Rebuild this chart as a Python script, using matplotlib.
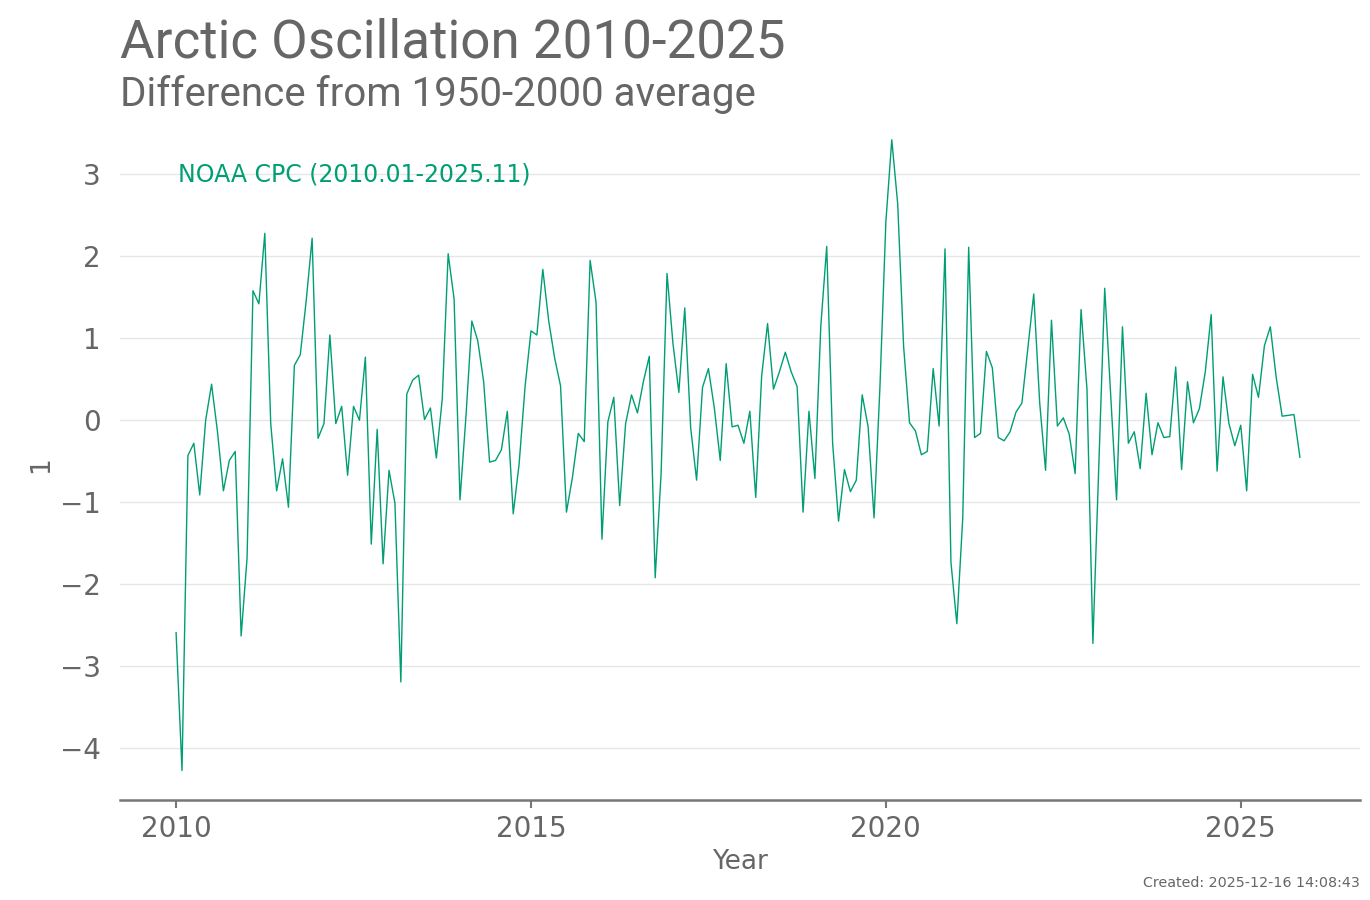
#Arctic Oscillation monthly index, 2010-2025
import matplotlib
matplotlib.use("Agg")
import matplotlib.pyplot as plt

#monthly values, Jan..Dec for each year
ao_2010 = [-2.59, -4.27, -0.43, -0.28, -0.91, -0.00, 0.44, -0.14, -0.86, -0.49, -0.38, -2.63]
ao_2011 = [-1.68, 1.58, 1.42, 2.28, -0.04, -0.86, -0.47, -1.06, 0.67, 0.80, 1.46, 2.22]
ao_2012 = [-0.22, -0.04, 1.04, -0.04, 0.17, -0.67, 0.17, 0.00, 0.77, -1.51, -0.11, -1.75]
ao_2013 = [-0.61, -1.01, -3.19, 0.32, 0.49, 0.55, 0.01, 0.15, -0.46, 0.26, 2.03, 1.48]
ao_2014 = [-0.97, 0.04, 1.21, 0.97, 0.47, -0.51, -0.49, -0.36, 0.11, -1.14, -0.53, 0.41]
ao_2015 = [1.09, 1.04, 1.84, 1.21, 0.76, 0.42, -1.12, -0.70, -0.16, -0.26, 1.95, 1.44]
ao_2016 = [-1.45, -0.02, 0.28, -1.04, -0.04, 0.31, 0.09, 0.47, 0.78, -1.92, -0.65, 1.79]
ao_2017 = [0.94, 0.34, 1.37, -0.09, -0.73, 0.40, 0.63, 0.15, -0.49, 0.69, -0.08, -0.06]
ao_2018 = [-0.28, 0.11, -0.94, 0.54, 1.18, 0.38, 0.59, 0.83, 0.59, 0.41, -1.12, 0.11]
ao_2019 = [-0.71, 1.15, 2.12, -0.28, -1.23, -0.60, -0.87, -0.73, 0.31, -0.08, -1.19, 0.41]
ao_2020 = [2.42, 3.42, 2.64, 0.90, -0.03, -0.13, -0.42, -0.38, 0.63, -0.07, 2.09, -1.73]
ao_2021 = [-2.48, -1.19, 2.11, -0.21, -0.16, 0.84, 0.64, -0.21, -0.25, -0.14, 0.10, 0.21]
ao_2022 = [0.88, 1.54, 0.22, -0.61, 1.22, -0.07, 0.03, -0.17, -0.65, 1.35, 0.38, -2.72]
ao_2023 = [-0.55, 1.61, 0.32, -0.97, 1.14, -0.28, -0.14, -0.59, 0.33, -0.42, -0.03, -0.21]
ao_2024 = [-0.20, 0.65, -0.60, 0.47, -0.03, 0.14, 0.59, 1.29, -0.62, 0.53, -0.04, -0.31]
ao_2025 = [-0.06, -0.86, 0.56, 0.28, 0.91, 1.14, 0.52, 0.05, 0.06, 0.07, -0.45]

years = list(range(2010, 2026))
yearly = [ao_2010, ao_2011, ao_2012, ao_2013, ao_2014, ao_2015, ao_2016, ao_2017,
          ao_2018, ao_2019, ao_2020, ao_2021, ao_2022, ao_2023, ao_2024, ao_2025]

x_ticks = [2010, 2015, 2020, 2025]
y_ticks = [-4, -3, -2, -1, 0, 1, 2, 3]

#flatten to decimal year / value
times = []
values = []
for yr, vals in zip(years, yearly):
    for m, v in enumerate(vals):
        times.append(yr + m / 12)
        values.append(v)

green = "#009E73"
grey = "#666666"

fig = plt.figure(figsize=(13.7, 9), dpi=100)
ax = fig.add_axes([0.0876, 0.1111, 0.9051, 0.7445])

ax.plot(times, values, color=green, linewidth=1.0)

ax.set_xlim(2009.21, 2026.68)
ax.set_ylim(-4.63, 3.54)
ax.set_xticks(x_ticks)
ax.set_yticks(y_ticks)
ax.set_yticklabels([str(t).replace("-", "\u2212") for t in y_ticks])

ax.grid(axis="y", color="#e6e6e6", linewidth=1.0)
ax.set_axisbelow(True)
for side in ["top", "right", "left"]:
    ax.spines[side].set_visible(False)
ax.spines["bottom"].set_color("#777777")
ax.spines["bottom"].set_linewidth(1.8)
ax.tick_params(axis="x", colors="#777777", length=6, width=1.5, labelsize=20,
               labelcolor=grey, pad=5)
ax.tick_params(axis="y", length=0, labelsize=20, labelcolor=grey, pad=14)

ax.set_xlabel("Year", fontsize=19, color=grey, labelpad=4)
ax.set_ylabel("1", fontsize=19, color=grey, labelpad=4)

ax.text(2010.02, 3.0, "NOAA CPC (2010.01-2025.11)", color=green, fontsize=17,
        va="center", ha="left")

fig.text(0.0876, 0.952, "Arctic Oscillation 2010-2025", fontsize=38.2, color=grey,
         family="Roboto", va="center", ha="left")
fig.text(0.0876, 0.895, "Difference from 1950-2000 average", fontsize=29, color=grey,
         family="Roboto", va="center", ha="left")
fig.text(0.9927, 0.019, "Created: 2025-12-16 14:08:43", fontsize=10.3, color=grey,
         va="center", ha="right")

fig.savefig("out.png", dpi=100)
